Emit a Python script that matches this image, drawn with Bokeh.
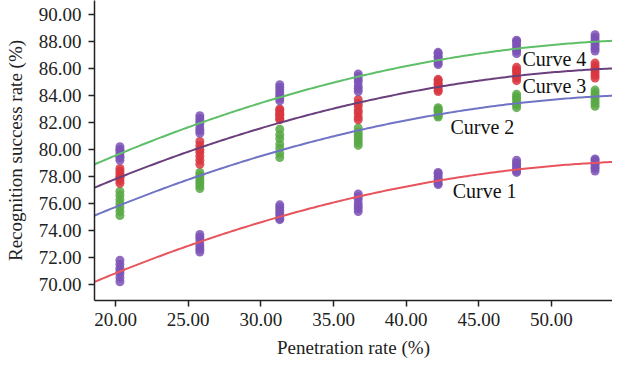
import numpy as np
from bokeh.plotting import figure
from bokeh.models import Range1d, FixedTicker
from bokeh.core.properties import value
from bokeh.embed import file_html
from bokeh.resources import INLINE

# Cluster positions (read through the drawn x axis)
xs = [20.3, 25.8, 31.3, 36.7, 42.2, 47.6, 53.0]

curve1 = [[71.8, 71.5, 71.2, 71.0, 70.8, 70.5, 70.2],
          [73.7, 73.5, 73.3, 73.0, 72.8, 72.6, 72.4],
          [75.9, 75.7, 75.5, 75.3, 75.1, 74.9, 74.8],
          [76.7, 76.5, 76.3, 76.0, 75.8, 75.6, 75.4],
          [78.3, 78.2, 78.0, 77.8, 77.7, 77.5, 77.4],
          [79.2, 79.0, 78.9, 78.7, 78.6, 78.4, 78.3],
          [79.3, 79.2, 79.0, 78.9, 78.7, 78.6, 78.4]]
curve2 = [[76.9, 76.6, 76.3, 76.0, 75.7, 75.4, 75.1],
          [78.3, 78.1, 77.9, 77.7, 77.5, 77.3, 77.1],
          [81.5, 81.1, 80.8, 80.4, 80.1, 79.7, 79.4],
          [81.6, 81.3, 81.1, 80.9, 80.7, 80.5, 80.3],
          [83.1, 83.0, 82.9, 82.8, 82.6, 82.5, 82.4],
          [84.1, 83.9, 83.8, 83.6, 83.4, 83.3, 83.1],
          [84.4, 84.2, 84.0, 83.8, 83.6, 83.4, 83.2]]
curve3 = [[78.6, 78.4, 78.2, 78.0, 77.9, 77.7, 77.5],
          [80.6, 80.3, 80.0, 79.8, 79.5, 79.2, 78.9],
          [83.0, 82.9, 82.7, 82.6, 82.5, 82.3, 82.2],
          [83.7, 83.4, 83.2, 82.9, 82.7, 82.4, 82.2],
          [85.2, 85.1, 84.9, 84.8, 84.6, 84.4, 84.3],
          [86.1, 85.9, 85.8, 85.6, 85.4, 85.3, 85.1],
          [86.4, 86.2, 86.0, 85.9, 85.7, 85.5, 85.3]]
curve4 = [[80.2, 80.0, 79.9, 79.7, 79.5, 79.4, 79.2],
          [82.5, 82.3, 82.1, 81.9, 81.6, 81.4, 81.2],
          [84.8, 84.6, 84.4, 84.2, 84.0, 83.8, 83.6],
          [85.6, 85.4, 85.2, 85.0, 84.7, 84.5, 84.3],
          [87.2, 87.1, 86.9, 86.8, 86.6, 86.4, 86.3],
          [88.1, 88.0, 87.8, 87.6, 87.4, 87.3, 87.1],
          [88.5, 88.3, 88.1, 87.9, 87.7, 87.5, 87.3]]

x_ticks = [20, 25, 30, 35, 40, 45, 50]
y_ticks = [70, 72, 74, 76, 78, 80, 82, 84, 86, 88, 90]
curve_names = ["Curve 1", "Curve 2", "Curve 3", "Curve 4"]

PURPLE = "#7b52b6"
RED = "#d8363f"
GREEN = "#58a845"
point_colors = [PURPLE, GREEN, RED, PURPLE]
line_colors = ["#e8545c", "#6f74c4", "#6a3f7c", "#5fbf68"]

SERIF = "Liberation Serif"

X0, X1 = 18.55, 54.2
p = figure(width=612, height=360, output_backend="svg", toolbar_location=None,
           x_range=Range1d(X0, X1), y_range=Range1d(68.81, 91.04),
           min_border_left=94, min_border_right=0, min_border_top=0,
           min_border_bottom=60)
p.outline_line_color = None
p.grid.visible = False
p.background_fill_color = "white"
p.border_fill_color = "white"

series = [curve1, curve2, curve3, curve4]
xfit = np.linspace(X0, X1, 200)
for data, pc in zip(series, point_colors):
    px = [x for x, grp in zip(xs, data) for _ in grp]
    py = [v for grp in data for v in grp]
    p.scatter(px, py, size=9, fill_color=pc, fill_alpha=0.85, line_color=None)

for data, lc in zip(series, line_colors):
    px = [x for x, grp in zip(xs, data) for _ in grp]
    py = [v for grp in data for v in grp]
    coef = np.polyfit(px, py, 2)
    p.line(xfit, np.polyval(coef, xfit), line_color=lc, line_width=2)

# curve labels
lab_x = [43.2, 43.05, 48.0, 48.0]
lab_y = [76.96, 81.63, 84.67, 86.74]
p.text(x=lab_x, y=lab_y, text=curve_names, text_font=value(SERIF),
       text_font_size="20px", text_baseline="middle", text_align="left",
       text_color="#111111")

for ax in (p.xaxis[0], p.yaxis[0]):
    ax.axis_line_color = "#222222"
    ax.axis_line_width = 1.5
    ax.major_tick_line_color = "#222222"
    ax.major_tick_line_width = 1.5
    ax.major_tick_out = 6
    ax.major_tick_in = 0
    ax.minor_tick_line_color = None
    ax.major_label_text_font = SERIF
    ax.major_label_text_font_size = "19px"
    ax.major_label_text_color = "#222222"
    ax.axis_label_text_font = SERIF
    ax.axis_label_text_font_size = "19px"
    ax.axis_label_text_font_style = "normal"
    ax.axis_label_text_color = "#222222"

p.xaxis.ticker = FixedTicker(ticks=x_ticks)
p.yaxis.ticker = FixedTicker(ticks=y_ticks)
p.xaxis.major_label_overrides = {t: f"{t:.2f}" for t in x_ticks}
p.yaxis.major_label_overrides = {t: f"{t:.2f}" for t in y_ticks}
p.xaxis.axis_label = "Penetration rate (%)"
p.yaxis.axis_label = "Recognition success rate (%)"
p.yaxis.major_label_standoff = 7
p.xaxis.major_label_standoff = 6
p.yaxis.axis_label_standoff = 10
p.xaxis.axis_label_standoff = 8

open("out.html", "w").write(file_html(p, INLINE))
